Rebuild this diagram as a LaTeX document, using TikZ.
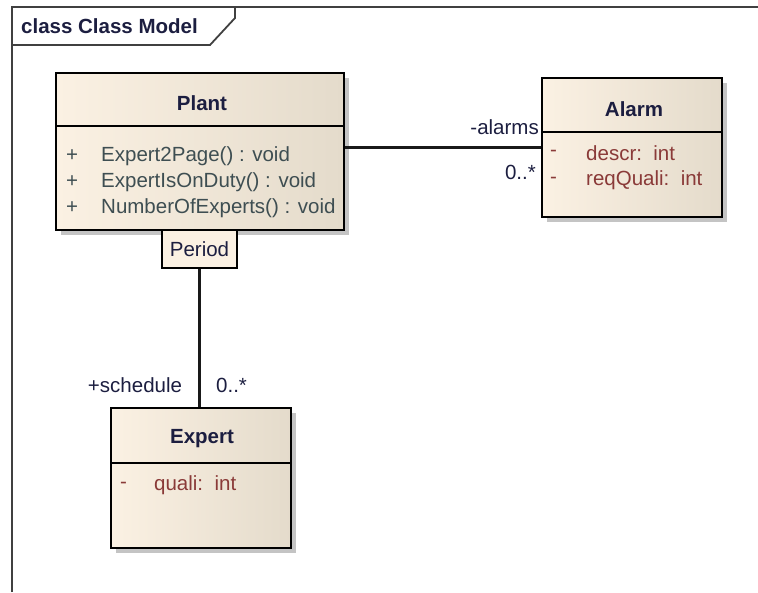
\documentclass[tikz,border=0pt]{standalone}
\usepackage{fontspec}
\setmainfont{Liberation Sans}
\usetikzlibrary{shadows}
\definecolor{fillL}{HTML}{FBF1E3}
\definecolor{fillR}{HTML}{E4DBCB}
\definecolor{shadowc}{HTML}{C4C4C4}
\definecolor{navy}{HTML}{1C1E40}
\definecolor{methc}{HTML}{3E4E52}
\definecolor{attrc}{HTML}{8A3A38}
\definecolor{framec}{HTML}{404040}
\tikzset{
  classbox/.style={draw=black, line width=1.8pt, shading=axis, left color=fillL, right color=fillR, shading angle=90,
    drop shadow={shadow xshift=5pt, shadow yshift=-5pt, fill=shadowc, opacity=1}, inner sep=0pt},
  periodbox/.style={draw=black, line width=1.6pt, fill=fillL, inner sep=0pt, font=\fontsize{20.5}{24}\selectfont, text=navy},
  hdr/.style={font=\fontsize{20.5}{24}\selectfont\bfseries, text=navy, inner sep=0pt},
  meth/.style={font=\fontsize{20.5}{24}\selectfont, text=methc, anchor=west, inner sep=0pt},
  attr/.style={font=\fontsize{20.5}{24}\selectfont, text=attrc, anchor=west, inner sep=0pt},
  lbl/.style={font=\fontsize{20.5}{24}\selectfont, text=navy, inner sep=0pt},
  conn/.style={draw=black!90, line width=2.2pt},
}
\begin{document}
\begin{tikzpicture}[x=1pt, y=-1pt]
\useasboundingbox (0,0) rectangle (758,592);
% frame
\draw[framec, line width=2pt] (12,592) -- (12,7) -- (758,7);
\draw[framec, line width=1.8pt] (12,45) -- (210,45) -- (235,18) -- (235,7);
\node[hdr, anchor=west] (title) at (21,26) {class Class Model};

% classes
\node[classbox, minimum width=288pt, minimum height=157pt] (plant) at (200,151.5) {};
\node[classbox, minimum width=180pt, minimum height=139pt] (alarm) at (632,147.5) {};
\node[classbox, minimum width=180pt, minimum height=140pt] (expert) at (201,478) {};
\node[periodbox, minimum width=75pt, minimum height=38pt] (period) at (199.5,249) {Period};

% dividers
\draw[line width=1.6pt] (plant.west |- 0,126) -- (plant.east |- 0,126);
\draw[line width=1.6pt] (alarm.west |- 0,132) -- (alarm.east |- 0,132);
\draw[line width=1.6pt] (expert.west |- 0,463) -- (expert.east |- 0,463);

% headers
\node[hdr] (plantname) at (202,103) {Plant};
\node[hdr] (alarmname) at (634,109) {Alarm};
\node[hdr] (expertname) at (202,439) {Expert};

% Plant operations
\node[meth] (pv1) at (66,156) {+};
\node[meth] (pm1) at (101,156) {Expert2Page() : void};
\node[meth] (pv2) at (66,182) {+};
\node[meth] (pm2) at (101,182) {ExpertIsOnDuty() : void};
\node[meth] (pv3) at (66,208) {+};
\node[meth] (pm3) at (101,208) {NumberOfExperts() : void};

% Alarm attributes
\node[attr] (av1) at (550,153) {-};
\node[attr] (aa1) at (586,153) {descr:\ \ int};
\node[attr] (av2) at (550,180) {-};
\node[attr] (aa2) at (586,180) {reqQuali:\ \ int};

% Expert attributes
\node[attr] (ev1) at (120,485) {-};
\node[attr] (ea1) at (154,485) {quali:\ \ int};

% connectors
\draw[conn] (plant.east |- alarm.west) -- (alarm.west);
\draw[conn] (period.south) -- (period.south |- expert.north);

% role labels
\node[lbl, anchor=east] (alarmsrole) at (539,127) {-alarms};
\node[lbl, anchor=east] (alarmsmult) at (536,172) {0..*};
\node[lbl] (schedrole) at (135,385) {+schedule};
\node[lbl, anchor=west] (schedmult) at (216,385) {0..*};
\end{tikzpicture}
\end{document}
